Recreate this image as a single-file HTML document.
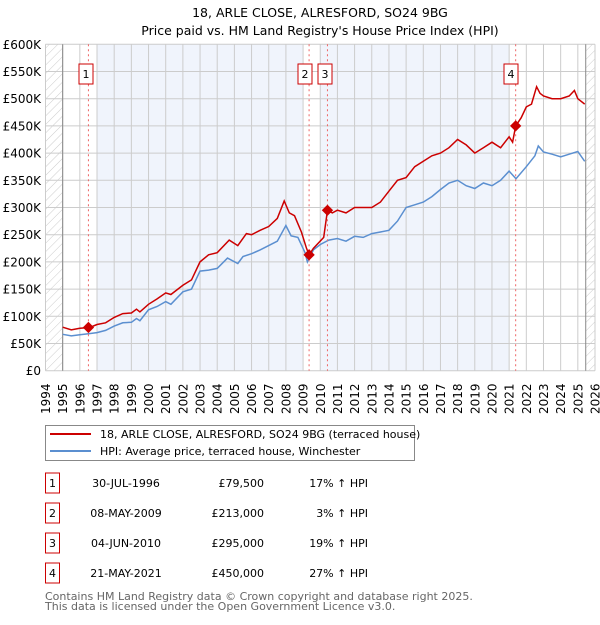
<!DOCTYPE html>
<html><head><meta charset="utf-8"><style>
body{margin:0;background:#fff;font-family:"Liberation Sans","DejaVu Sans",sans-serif;}
svg text{font-family:"DejaVu Sans","Liberation Sans",sans-serif;}
</style></head><body>
<svg id="c" width="600" height="620" xmlns="http://www.w3.org/2000/svg">
<text x="320" y="17" font-size="12.5" text-anchor="middle">18, ARLE CLOSE, ALRESFORD, SO24 9BG</text>
<text x="320" y="35" font-size="12.5" text-anchor="middle">Price paid vs. HM Land Registry's House Price Index (HPI)</text>
<defs><pattern id="h" width="6" height="6" patternUnits="userSpaceOnUse" patternTransform="rotate(45)"><line x1="0" y1="0" x2="0" y2="6" stroke="#ccc" stroke-width="1"/></pattern>
<clipPath id="clip"><rect x="45.5" y="44" width="550" height="327"/></clipPath></defs>
<g id="bg"></g><g id="grid"></g><g id="series" clip-path="url(#clip)"></g><g id="marks"></g>
<g>
<rect x="45.5" y="425.5" width="369" height="35" fill="#fff" stroke="#888"/>
<line x1="50" y1="434" x2="91" y2="434" stroke="#cc0000" stroke-width="2"/>
<text x="100" y="438" font-size="11">18, ARLE CLOSE, ALRESFORD, SO24 9BG (terraced house)</text>
<line x1="50" y1="451" x2="91" y2="451" stroke="#5b8fd0" stroke-width="2"/>
<text x="100" y="455" font-size="11">HPI: Average price, terraced house, Winchester</text>
</g>
<g id="table" font-size="11"></g>
<text x="45" y="600" font-size="11" fill="#666">Contains HM Land Registry data © Crown copyright and database right 2025.</text>
<text x="45" y="610" font-size="11" fill="#666">This data is licensed under the Open Government Licence v3.0.</text>
</svg>
<script>
const hpiYears=[1995,1995.5,1996,1996.5,1997,1997.5,1998,1998.5,1999,1999.3,1999.5,2000,2000.5,2001,2001.3,2002,2002.5,2003,2003.5,2004,2004.6,2005.2,2005.5,2006,2006.5,2007,2007.5,2008,2008.3,2008.7,2009.1,2009.25,2009.6,2010,2010.5,2011,2011.5,2012,2012.5,2013,2013.5,2014,2014.5,2015,2015.5,2016,2016.5,2017,2017.5,2018,2018.5,2019,2019.5,2020,2020.5,2021,2021.4,2022,2022.5,2022.7,2023,2023.5,2024,2024.5,2025,2025.4];
const hpiValues=[67,64,66,68,70,74,82,88,89,96,92,112,118,127,122,145,150,183,185,188,207,197,210,215,222,230,238,267,248,245,218,200,222,232,240,243,238,247,245,252,255,258,275,300,305,310,320,333,345,350,340,335,345,340,350,367,353,375,395,413,402,398,393,398,403,385];
const priceYears=[1995,1995.5,1996,1996.58,1997,1997.5,1998,1998.5,1999,1999.3,1999.5,2000,2000.5,2001,2001.3,2002,2002.5,2003,2003.5,2004,2004.7,2005.2,2005.7,2006,2006.5,2007,2007.5,2007.9,2008.2,2008.5,2008.9,2009.2,2009.35,2009.6,2010.2,2010.42,2010.7,2011,2011.5,2012,2012.5,2013,2013.5,2014,2014.5,2015,2015.5,2016,2016.5,2017,2017.5,2018,2018.5,2019,2019.5,2020,2020.5,2021,2021.2,2021.38,2021.7,2022,2022.3,2022.6,2022.8,2023,2023.5,2024,2024.5,2024.8,2025,2025.4];
const priceValues=[80,75,78,79.5,85,88,98,105,106,113,108,122,132,143,140,157,167,200,213,217,240,230,252,250,258,265,280,312,290,285,255,225,213,225,245,295,290,295,290,300,300,300,310,330,350,355,375,385,395,400,410,425,415,400,410,420,410,430,420,450,465,485,490,522,510,505,500,500,505,515,500,490];
const sales=[{n:"1",date:"30-JUL-1996",t:1996.5,v:79.5,price:"£79,500",pct:"17% ↑ HPI"},{n:"2",date:"08-MAY-2009",t:2009.35,v:213,price:"£213,000",pct:"3% ↑ HPI"},{n:"3",date:"04-JUN-2010",t:2010.42,v:295,price:"£295,000",pct:"19% ↑ HPI"},{n:"4",date:"21-MAY-2021",t:2021.38,v:450,price:"£450,000",pct:"27% ↑ HPI"}];
const bandStarts=[1997,2010];
const bandEnds=[2009,2021];
const yTicks=[0,50,100,150,200,250,300,350,400,450,500,550,600];
const yLabels=["£0","£50K","£100K","£150K","£200K","£250K","£300K","£350K","£400K","£450K","£500K","£550K","£600K"];
const xTicks=[1994,1995,1996,1997,1998,1999,2000,2001,2002,2003,2004,2005,2006,2007,2008,2009,2010,2011,2012,2013,2014,2015,2016,2017,2018,2019,2020,2021,2022,2023,2024,2025,2026];
const X0=45.5,X1=595,Y0=370.7,Y1=44.3;
const sx=t=>X0+(t-1994)/32*(X1-X0);
const sy=v=>Y0-v/600*(Y0-Y1);
const NS="http://www.w3.org/2000/svg";
function mk(p,tag,a){const e=document.createElementNS(NS,tag);for(const k in a)e.setAttribute(k,a[k]);p.appendChild(e);return e;}
const bg=document.getElementById('bg'),grid=document.getElementById('grid'),ser=document.getElementById('series'),marks=document.getElementById('marks');
let r=mk(bg,'rect',{x:X0,y:Y1,width:X1-X0,height:Y0-Y1,fill:'#fff'});
bandStarts.forEach((s,i)=>{
r=mk(bg,'rect',{x:sx(s),y:Y1,width:sx(bandEnds[i])-sx(s),height:Y0-Y1,fill:'#f0f4fc'});


});
r=mk(bg,'rect',{x:X0,y:Y1,width:sx(1995)-X0,height:Y0-Y1,fill:'url(#h)'});


r=mk(bg,'rect',{x:sx(2025.46),y:Y1,width:X1-sx(2025.46),height:Y0-Y1,fill:'url(#h)'});


yTicks.forEach((v,i)=>{mk(grid,'line',{x1:X0,x2:X1,y1:sy(v),y2:sy(v),stroke:'#ccc','stroke-width':1});
const t=mk(grid,'text',{x:41,y:sy(v)+4.5,'font-size':12,'text-anchor':'end'});t.textContent=yLabels[i];

});
xTicks.forEach(y=>{mk(grid,'line',{x1:sx(y),x2:sx(y),y1:Y1,y2:Y0,stroke:'#ccc','stroke-width':1});
const t=mk(grid,'text',{x:0,y:0,'font-size':12,transform:`translate(${sx(y)+4.5},${414}) rotate(-90)`});t.textContent=y;

});
mk(grid,'line',{x1:sx(1995),x2:sx(1995),y1:Y1,y2:Y0,stroke:'#888'});
mk(grid,'line',{x1:sx(2025.46),x2:sx(2025.46),y1:Y1,y2:Y0,stroke:'#888'});
function path(xs,vs){return xs.map((t,i)=>(i?'L':'M')+sx(t).toFixed(1)+','+sy(vs[i]).toFixed(1)).join('');}
let p=mk(ser,'path',{d:path(hpiYears,hpiValues),fill:'none',stroke:'#5b8fd0','stroke-width':1.5});


p=mk(ser,'path',{d:path(priceYears,priceValues),fill:'none',stroke:'#cc0000','stroke-width':1.5});


const tbl=document.getElementById('table');
sales.forEach((s,i)=>{
mk(marks,'line',{x1:sx(s.t),x2:sx(s.t),y1:Y1,y2:Y0,stroke:'#e66','stroke-width':1,'stroke-dasharray':'2,3'});
const d=mk(marks,'rect',{x:sx(s.t)-4,y:sy(s.v)-4,width:8,height:8,fill:'#cc0000',transform:`rotate(45 ${sx(s.t)} ${sy(s.v)})`});


const cx=i===0?86:i===1?305:i===2?325:511;
const b=mk(marks,'rect',{x:cx-7,y:64,width:14,height:20,fill:'#fff',stroke:'#cc0000'});


const t=mk(marks,'text',{x:cx,y:78,'font-size':11,'text-anchor':'middle'});t.textContent=s.n;
const ry=473+i*30;
const tb=mk(tbl,'rect',{x:45.5,y:ry,width:14,height:20,fill:'#fff',stroke:'#cc0000'});


const c1=mk(tbl,'text',{x:52.5,y:ry+14,'text-anchor':'middle'});c1.textContent=s.n;
const c2=mk(tbl,'text',{x:126,y:ry+14,'text-anchor':'middle'});c2.textContent=s.date;


const c3=mk(tbl,'text',{x:264,y:ry+14,'text-anchor':'end'});c3.textContent=s.price;


const c4=mk(tbl,'text',{x:368,y:ry+14,'text-anchor':'end'});c4.textContent=s.pct;


});
</script>
</body></html>
